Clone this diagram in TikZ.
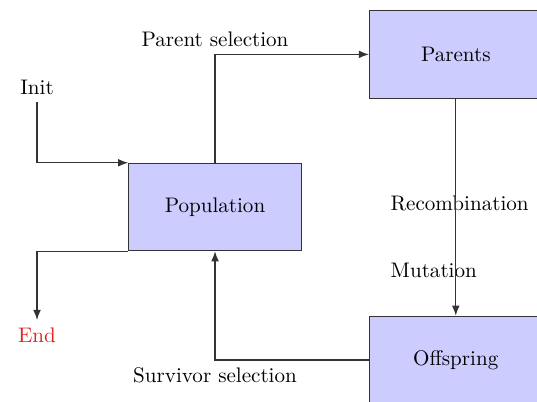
\documentclass[tikz,border=0pt]{standalone}
\usetikzlibrary{arrows.meta,positioning}
\definecolor{stageblue}{RGB}{204,204,255}
\definecolor{endred}{RGB}{228,32,32}
\tikzset{
 stage/.style={rectangle,draw=black!80,fill=stageblue,minimum width=2.88cm,minimum height=1.46cm,align=center},
 arrow/.style={-{Latex[length=1.7mm,width=1.3mm]},semithick,draw=black!80},
 link/.style={semithick,draw=black!80}}

\begin{document}
\begin{tikzpicture}
\useasboundingbox (0,0) rectangle (8.953,-6.686);
\clip (0,0) rectangle (8.953,-6.686);
\node[stage] (pop) at (3.585,-3.451) {Population};
\node[stage,above right=1.07cm and 1.12cm of pop] (parents) {Parents};
\node[stage,below=3.62cm of parents] (offspring) {Offspring};
\node (init) at (0.617,-1.451) {Init};
\node[text=endred] (end) at (0.617,-5.585) {End};
\node[anchor=west] (recomb) at (6.39,-3.385) {Recombination};
\node[anchor=west] (mut) at (6.39,-4.502) {Mutation};
\draw[arrow] (init) |- (pop.north west);
\draw[arrow] (pop.north) |- node[above] (psel) {Parent selection} (parents.west);
\draw[arrow] (parents) -- (offspring);
\draw[arrow] (offspring.west) -| node[below] (ssel) {Survivor selection} (pop.south);
\draw[arrow] (pop.south west) -| (end);
\end{tikzpicture}
\end{document}
